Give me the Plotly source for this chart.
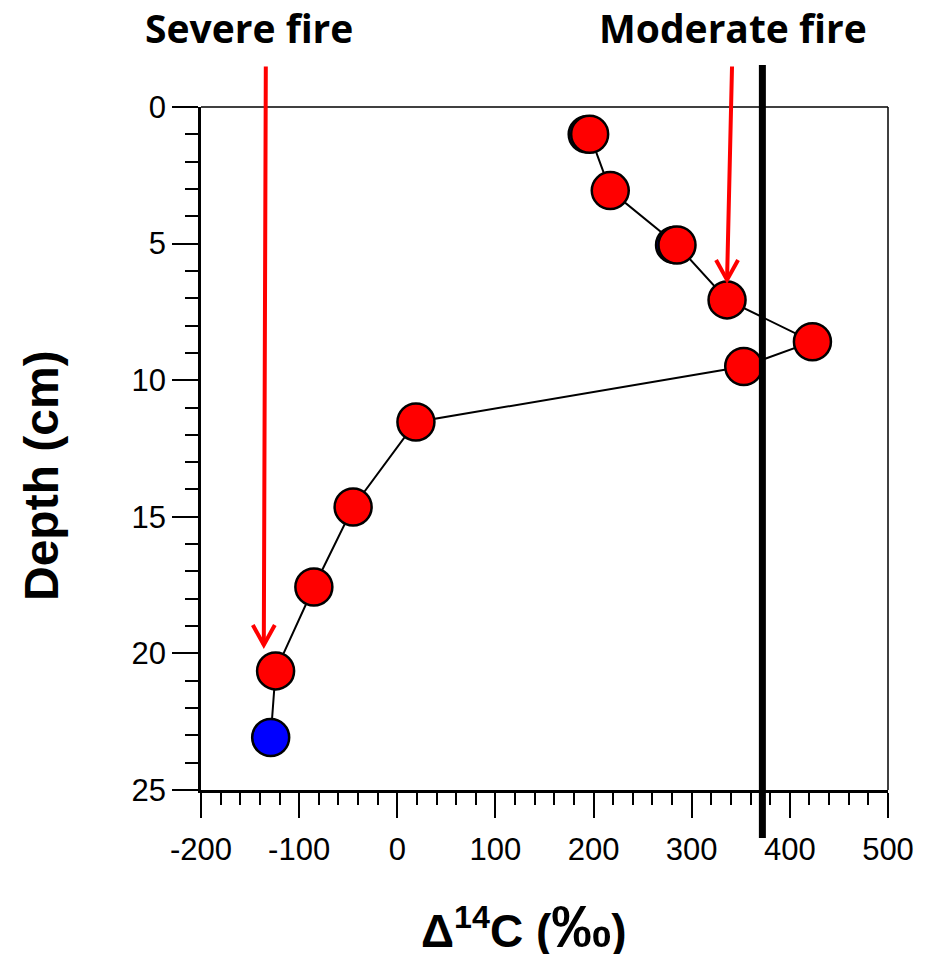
import plotly.graph_objects as go

# Data
delta14c = [196, 217, 285, 336, 423, 353, 19, -45, -85, -124, -129]
depth = [1.0, 3.06, 5.05, 7.06, 8.59, 9.5, 11.53, 14.64, 17.57, 20.64, 23.08]
point_colors = ["red"] * 10 + ["blue"]
hidden_blue_x = [193, 282]
hidden_blue_y = [1.0, 5.05]
atmos_value = 372
x_ticks = [-200, -100, 0, 100, 200, 300, 400, 500]
y_ticks = [0, 5, 10, 15, 20, 25]
severe_tip = (-136, 19.69)
moderate_tip = (336, 6.33)

fig = go.Figure()

fig.add_trace(go.Scatter(
    x=hidden_blue_x, y=hidden_blue_y, mode="markers",
    marker=dict(size=36, color="blue", line=dict(color="black", width=2.5)),
    showlegend=False, cliponaxis=False))

fig.add_trace(go.Scatter(
    x=delta14c, y=depth, mode="lines+markers",
    line=dict(color="black", width=2),
    marker=dict(size=37, color=point_colors, line=dict(color="black", width=2.5)),
    showlegend=False, cliponaxis=False))

# page has an 8px body margin; work in page pixels
OFF = 8
PL, PR, PT, PB = 201, 888, 107, 790  # plot area in page pixels
W, H = 945 - OFF, 954 - OFF
L, T = PL - OFF, PT - OFF
R, B = (OFF + W) - PR, (OFF + H) - PB
pw, ph = PR - PL, PB - PT

def px2paper_x(px):
    return (px - PL) / pw

def px2paper_y(py):
    return (PB - py) / ph

tickfont = dict(family="Liberation Sans, Arial", size=31, color="black")

fig.update_xaxes(
    range=[-200, 500], tickvals=x_ticks, ticktext=[str(v) for v in x_ticks],
    showgrid=False, zeroline=False, showline=True, linecolor="black", linewidth=2.5,
    ticks="outside", ticklen=25, tickwidth=2, tickcolor="black",
    minor=dict(dtick=20, ticks="outside", ticklen=12, tickwidth=2, tickcolor="black", showgrid=False),
    tickfont=tickfont, ticklabelstandoff=5)
fig.update_yaxes(
    range=[25, 0], tickvals=y_ticks, ticktext=[str(v) for v in y_ticks],
    showgrid=False, zeroline=False, showline=True, linecolor="black", linewidth=2.5,
    ticks="outside", ticklen=26, tickwidth=2, tickcolor="black",
    minor=dict(dtick=1, ticks="outside", ticklen=13, tickwidth=2, tickcolor="black", showgrid=False),
    tickfont=tickfont)

# top and right frame lines (thinner)
fig.add_shape(type="line", xref="paper", yref="paper", x0=0, x1=1, y0=1, y1=1,
              line=dict(color="black", width=1.5))
fig.add_shape(type="line", xref="paper", yref="paper", x0=1, x1=1, y0=0, y1=1,
              line=dict(color="black", width=1.5))

# thick black vertical reference line
fig.add_shape(type="line", xref="x", yref="paper", x0=atmos_value, x1=atmos_value,
              y0=px2paper_y(838), y1=px2paper_y(65), line=dict(color="black", width=7))

# red arrows (shaft as annotation, open chevron head as pixel-sized shape)
for tip, dx, dy in [(severe_tip, 2, -580), (moderate_tip, 5, -215)]:
    fig.add_annotation(x=tip[0], y=tip[1], xref="x", yref="y", ax=dx, ay=dy,
                       showarrow=True, arrowhead=0, arrowwidth=4, arrowcolor="red",
                       text="", standoff=0)
    fig.add_shape(type="path", xref="x", yref="y", xsizemode="pixel", ysizemode="pixel",
                  xanchor=tip[0], yanchor=tip[1], path="M-11,20 L0,0 L11,20",
                  line=dict(color="red", width=4))

titlefont = dict(family="Open Sans, Liberation Sans", size=39, color="black")
fig.add_annotation(text="<b>Severe fire</b>", xref="paper", yref="paper",
                   x=px2paper_x(249), y=px2paper_y(28), showarrow=False,
                   xanchor="center", yanchor="middle", font=titlefont, borderpad=0)
fig.add_annotation(text="<b>Moderate fire</b>", xref="paper", yref="paper",
                   x=px2paper_x(733), y=px2paper_y(28), showarrow=False,
                   xanchor="center", yanchor="middle", font=titlefont, borderpad=0)

axisfont = dict(family="Liberation Sans, Arial", size=48, color="black")
fig.add_annotation(text="<b>Depth (cm)</b>", xref="paper", yref="paper",
                   x=px2paper_x(42), y=px2paper_y(476), showarrow=False, textangle=-90,
                   xanchor="center", yanchor="middle", font=axisfont)
fig.add_annotation(text="<b>Δ<sup>14</sup>C (<span style='font-size:60px'>‰</span>)</b>",
                   xref="paper", yref="paper",
                   x=px2paper_x(524), y=px2paper_y(926), showarrow=False,
                   xanchor="center", yanchor="middle", borderpad=0,
                   font=dict(family="Liberation Sans, Arial", size=46, color="black"))

fig.update_layout(width=W, height=H, margin=dict(l=L, r=R, t=T, b=B),
                  paper_bgcolor="white", plot_bgcolor="white")

fig.write_html("out.html")
